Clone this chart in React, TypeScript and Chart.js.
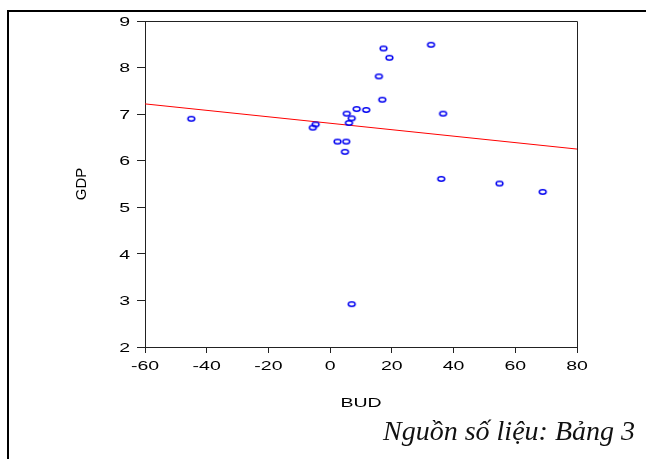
import { useEffect, useRef } from "react";
import { Chart, registerables } from "chart.js";

Chart.register(...registerables);

// Observations: budget balance (BUD) against GDP growth (GDP)
const budValues = [-45, -4.7, -5.6, 2.4, 5.2, 4.8, 5.4, 7.0, 6.1, 8.6, 11.7, 16.9, 15.8, 17.3, 19.2, 32.7, 36.6, 36.0, 54.9, 68.9, 7.0];
const gdpValues = [6.9, 6.78, 6.71, 6.41, 6.41, 6.19, 7.01, 6.91, 6.81, 7.11, 7.09, 7.31, 7.81, 8.41, 8.21, 8.49, 7.01, 5.61, 5.51, 5.33, 2.92];

// Fitted regression line end points
const fitBud = [-60, 80];
const fitGdp = [7.22, 6.25];

// Axis ticks
const budTicks = [-60, -40, -20, 0, 20, 40, 60, 80];
const gdpTicks = [2, 3, 4, 5, 6, 7, 8, 9];

const xTitle = "BUD";
const yTitle = "GDP";
const sourceNote = "Nguồn số liệu: Bảng 3";

const W = 646;
const H = 459;
const SANS = "'Liberation Sans', Arial, sans-serif";
const WIDE = 1.5; // horizontal stretch of the axis lettering
const INK = "#000";

function makeMarker(): HTMLCanvasElement {
  const c = document.createElement("canvas");
  c.width = 11;
  c.height = 8;
  const g = c.getContext("2d")!;
  g.strokeStyle = "#0000f0";
  g.lineWidth = 1.5;
  g.beginPath();
  g.ellipse(5.5, 4, 3.4, 2.2, 0, 0, Math.PI * 2);
  g.stroke();
  return c;
}

function stretchedText(ctx: CanvasRenderingContext2D, text: string, x: number, y: number, align: CanvasTextAlign) {
  ctx.save();
  ctx.translate(x, y);
  ctx.scale(WIDE, 1);
  ctx.textAlign = align;
  ctx.fillText(text, 0, 0);
  ctx.restore();
}

const decorPlugin = {
  id: "decor",
  afterDraw(chart: any) {
    const { ctx, chartArea: a, scales } = chart;
    const xs = scales.x;
    const ys = scales.y;
    ctx.save();

    // outer frame (top and left rules)
    ctx.strokeStyle = "#000";
    ctx.lineWidth = 2;
    ctx.beginPath();
    ctx.moveTo(7, 11);
    ctx.lineTo(W, 11);
    ctx.moveTo(8, 10);
    ctx.lineTo(8, H);
    ctx.stroke();

    // top and right edges of the plot box
    ctx.strokeStyle = "#222";
    ctx.lineWidth = 1;
    ctx.beginPath();
    ctx.moveTo(a.left, a.top + 0.5);
    ctx.lineTo(a.right + 0.5, a.top + 0.5);
    ctx.lineTo(a.right + 0.5, a.bottom);
    ctx.stroke();

    // tick labels
    ctx.fillStyle = INK;
    ctx.font = `13px ${SANS}`;
    ctx.textBaseline = "alphabetic";
    budTicks.forEach((v) => {
      stretchedText(ctx, String(v), xs.getPixelForValue(v), a.bottom + 23, "center");
    });
    gdpTicks.forEach((v) => {
      stretchedText(ctx, String(v), a.left - 15, ys.getPixelForValue(v) + 4.7, "right");
    });

    // axis titles
    stretchedText(ctx, xTitle, (a.left + a.right) / 2, a.bottom + 60, "center");
    ctx.save();
    ctx.font = `15px ${SANS}`;
    ctx.translate(a.left - 59, (a.top + a.bottom) / 2);
    ctx.rotate(-Math.PI / 2);
    ctx.textAlign = "center";
    ctx.textBaseline = "alphabetic";
    ctx.fillText(yTitle, 0, 0);
    ctx.restore();

    // source note
    ctx.font = `italic 28px 'Liberation Serif', 'Times New Roman', serif`;
    ctx.fillStyle = "#111";
    ctx.textAlign = "right";
    ctx.textBaseline = "alphabetic";
    ctx.fillText(sourceNote, 635, 440);

    ctx.restore();
  },
};

export default function App() {
  const ref = useRef<HTMLCanvasElement | null>(null);

  useEffect(() => {
    document.body.style.margin = "0";
    const canvas = ref.current!;
    const marker = makeMarker();

    const axisCommon = {
      type: "linear" as const,
      ticks: { display: false },
      border: { display: true, color: "#222", width: 1 },
    };

    const chart = new Chart(canvas, {
      type: "scatter",
      data: {
        datasets: [
          {
            label: "GDP",
            data: budValues.map((b, i) => ({ x: b, y: gdpValues[i] })),
            pointStyle: marker as any,
            pointRadius: 4,
            pointHoverRadius: 4,
            backgroundColor: "#0000f0",
            borderColor: "#0000f0",
          },
          {
            label: "Fit",
            data: fitBud.map((b, i) => ({ x: b, y: fitGdp[i] })),
            showLine: true,
            borderColor: "#ff0000",
            borderWidth: 1,
            pointRadius: 0,
            pointHoverRadius: 0,
          },
        ],
      },
      options: {
        animation: false,
        responsive: false,
        devicePixelRatio: 1,
        events: [],
        layout: { padding: { left: 0, top: 21, right: 69, bottom: 92 } },
        plugins: { legend: { display: false }, tooltip: { enabled: false } },
        scales: {
          x: {
            ...axisCommon,
            min: -60,
            max: 80,
            afterBuildTicks: (s: any) => {
              s.ticks = budTicks.map((v) => ({ value: v }));
            },
            afterFit: (s: any) => {
              s.height = 20;
            },
            grid: { drawOnChartArea: false, drawTicks: true, tickLength: 6, color: "#222", lineWidth: 1 },
          },
          y: {
            ...axisCommon,
            min: 2,
            max: 9,
            afterBuildTicks: (s: any) => {
              s.ticks = gdpTicks.map((v) => ({ value: v }));
            },
            afterFit: (s: any) => {
              s.width = 145;
            },
            grid: { drawOnChartArea: false, drawTicks: true, tickLength: 8, color: "#222", lineWidth: 1 },
          },
        },
      },
      plugins: [decorPlugin],
    });

    return () => chart.destroy();
  }, []);

  return (
    <div style={{ position: "fixed", left: 0, top: 0, width: W, height: H, background: "#fff" }}>
      <canvas ref={ref} width={W} height={H} style={{ display: "block", width: W, height: H }} />
    </div>
  );
}
